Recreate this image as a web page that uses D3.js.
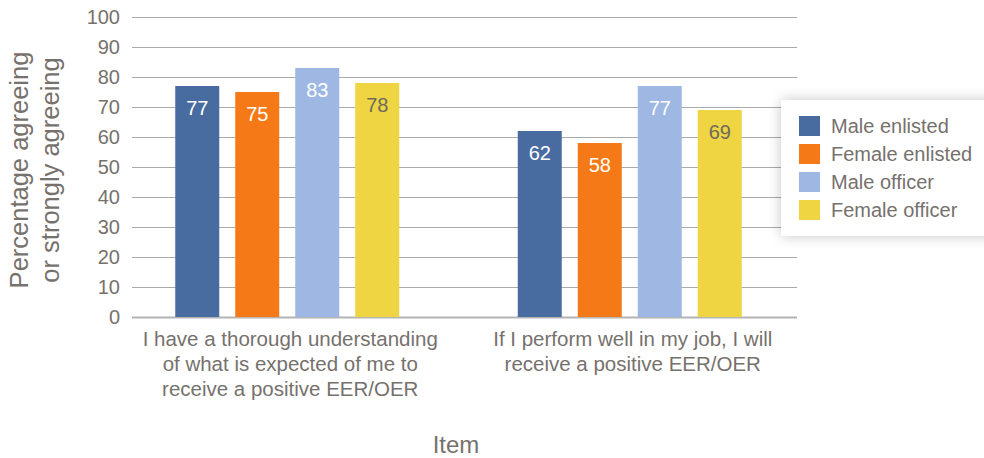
<!DOCTYPE html>
<html lang="en">
<head>
    <meta charset="UTF-8">
    <title>Percentage agreeing by item</title>
    <script src="https://d3js.org/d3.v7.min.js"></script>
    <style>
        body {
            margin: 0;
            padding: 0;
            background: #fff;
        }

        svg {
            display: block;
            font-family: "Liberation Sans", Arial, sans-serif;
        }
    </style>
</head>
<body>
<svg id="chart" width="984" height="458"></svg>

<script>
    // data
    var items = [
        ["I have a thorough understanding", "of what is expected of me to", "receive a positive EER/OER"],
        ["If I perform well in my job, I will", "receive a positive EER/OER"]
    ];
    var series = ["Male enlisted", "Female enlisted", "Male officer", "Female officer"];
    var maleEnlisted = [77, 62];
    var femaleEnlisted = [75, 58];
    var maleOfficer = [83, 77];
    var femaleOfficer = [78, 69];
    var yTicks = [0, 10, 20, 30, 40, 50, 60, 70, 80, 90, 100];

    var colors = ["#496ca0", "#f57a17", "#9eb8e3", "#efd541"];
    var labelColors = ["#fff", "#fff", "#fff", "#6e6a5e"];

    var values = [maleEnlisted, femaleEnlisted, maleOfficer, femaleOfficer];

    var svg = d3.select("#chart");
    var textColor = "#76716d";

    // plot area
    var plotLeft = 132, plotRight = 797, plotTop = 17, plotBottom = 317;

    var y = d3.scaleLinear()
        .domain([0, 100])
        .range([plotBottom, plotTop]);

    // group centers (the first group sits a bit left of its band in the original)
    var x0 = d3.scaleBand()
        .domain(d3.range(items.length))
        .range([116, 801]);

    var x1 = d3.scaleBand()
        .domain(series)
        .range([-112, 112])
        .paddingInner(0.2667)
        .paddingOuter(0);

    // gridlines
    svg.append("g")
        .selectAll("line")
        .data(yTicks)
        .enter().append("line")
        .attr("x1", plotLeft)
        .attr("x2", plotRight)
        .attr("y1", function(d) { return Math.round(y(d)) + 0.5; })
        .attr("y2", function(d) { return Math.round(y(d)) + 0.5; })
        .attr("stroke", function(d) { return d === 0 ? "#b4b4b4" : "#aaaaaa"; })
        .attr("stroke-width", function(d) { return d === 0 ? 2 : 1; });

    // y tick labels
    svg.append("g")
        .selectAll("text")
        .data(yTicks)
        .enter().append("text")
        .attr("x", 120)
        .attr("y", function(d) { return y(d) + 7; })
        .attr("text-anchor", "end")
        .attr("fill", textColor)
        .style("font-size", "20px")
        .text(function(d) { return d; });

    // bars
    var groups = svg.append("g")
        .selectAll("g")
        .data(items)
        .enter().append("g")
        .attr("transform", function(d, i) {
            return "translate(" + (x0(i) + x0.bandwidth() / 2) + ",0)";
        });

    groups.each(function(d, gi) {
        var g = d3.select(this);
        series.forEach(function(s, si) {
            var v = values[si][gi];
            g.append("rect")
                .attr("x", x1(s))
                .attr("y", y(v))
                .attr("width", x1.bandwidth())
                .attr("height", plotBottom - y(v))
                .attr("fill", colors[si]);
            g.append("text")
                .attr("x", x1(s) + x1.bandwidth() / 2)
                .attr("y", y(v) + 29)
                .attr("text-anchor", "middle")
                .attr("fill", labelColors[si])
                .style("font-size", "20px")
                .text(v);
        });
    });

    // category labels
    groups.each(function(d) {
        var t = d3.select(this).append("text")
            .attr("text-anchor", "middle")
            .attr("fill", textColor)
            .style("font-size", "20.5px");
        d.forEach(function(line, li) {
            t.append("tspan")
                .attr("x", 3)
                .attr("y", 346 + li * 25)
                .text(line);
        });
    });

    // axis titles
    svg.append("text")
        .attr("x", 456)
        .attr("y", 453)
        .attr("text-anchor", "middle")
        .attr("fill", textColor)
        .style("font-size", "24px")
        .text("Item");

    var yTitle = svg.append("text")
        .attr("transform", "translate(0,170) rotate(-90)")
        .attr("text-anchor", "middle")
        .attr("fill", textColor)
        .style("font-size", "25.5px");
    yTitle.append("tspan").attr("x", 0).attr("y", 28).text("Percentage agreeing");
    yTitle.append("tspan").attr("x", 0).attr("y", 59).text("or strongly agreeing");

    // legend with soft shadow
    var defs = svg.append("defs");
    var filter = defs.append("filter")
        .attr("id", "shadow")
        .attr("x", "-20%").attr("y", "-30%")
        .attr("width", "140%").attr("height", "160%");
    filter.append("feGaussianBlur")
        .attr("in", "SourceAlpha")
        .attr("stdDeviation", 7);
    filter.append("feComponentTransfer")
        .append("feFuncA").attr("type", "linear").attr("slope", 0.22);
    var merge = filter.append("feMerge");
    merge.append("feMergeNode");
    merge.append("feMergeNode").attr("in", "SourceGraphic");

    var legend = svg.append("g").attr("transform", "translate(781,100)");
    legend.append("rect")
        .attr("width", 215)
        .attr("height", 136)
        .attr("fill", "#fff")
        .attr("filter", "url(#shadow)");

    var rows = legend.selectAll("g.row")
        .data(series)
        .enter().append("g")
        .attr("class", "row")
        .attr("transform", function(d, i) { return "translate(18," + (16 + i * 28) + ")"; });
    rows.append("rect")
        .attr("width", 21)
        .attr("height", 20)
        .attr("fill", function(d, i) { return colors[i]; });
    rows.append("text")
        .attr("x", 32)
        .attr("y", 17)
        .attr("fill", textColor)
        .style("font-size", "20px")
        .text(function(d) { return d; });
</script>
</body>
</html>
